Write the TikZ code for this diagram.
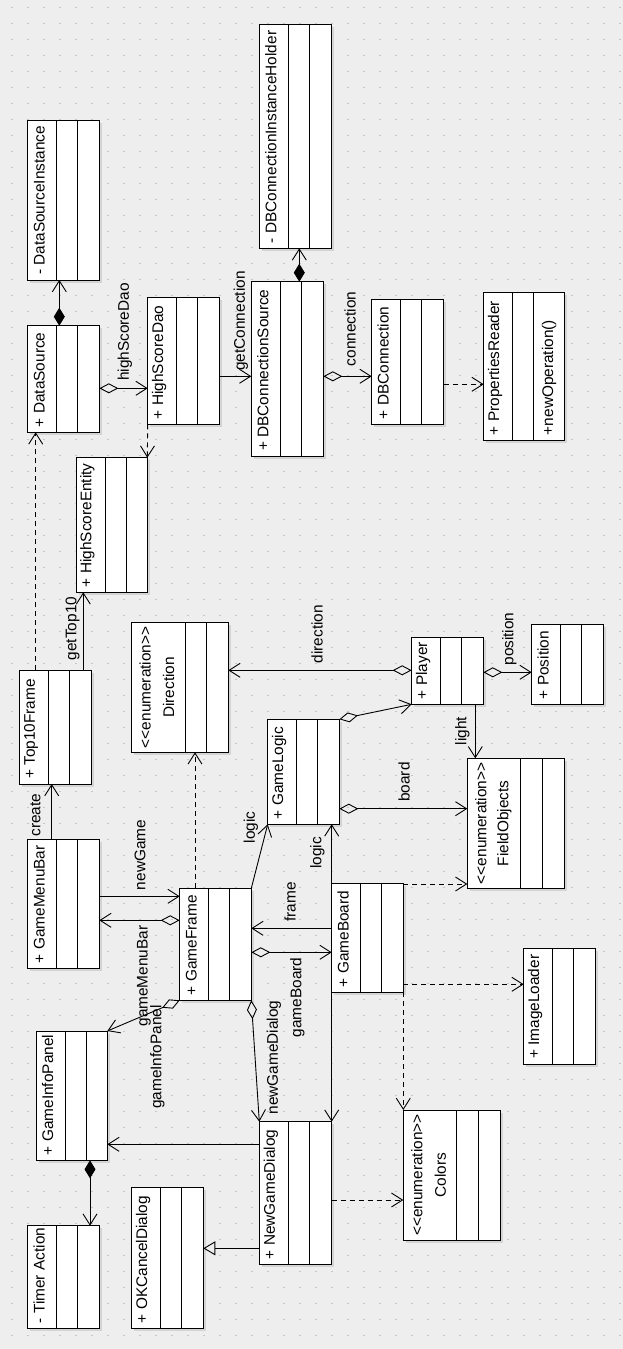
\documentclass[tikz,border=0pt]{standalone}
\usepackage{fontspec}
\setmainfont{Liberation Sans}
\usetikzlibrary{arrows.meta,calc,fit}
\definecolor{bgc}{HTML}{EEEEEE}
\definecolor{dotc}{HTML}{C6C6C6}
\definecolor{shc}{HTML}{D4D4D4}
\tikzset{
  clsbox/.style={draw=black, fill=white, line width=1pt, inner sep=0pt, outer sep=0pt},
  clsline/.style={line width=1pt},
  clstext/.style={rotate=90, inner sep=0pt, font=\fontsize{15.4}{18}\selectfont},
  lbl/.style={rotate=90, inner sep=0pt, font=\fontsize{15.4}{18}\selectfont},
  assoc/.style={line width=0.9pt, -{Straight Barb[length=11pt,width=14pt]}},
  agg/.style={line width=0.9pt, {Diamond[open,length=19pt,width=10pt]}-{Straight Barb[length=11pt,width=14pt]}},
  comp/.style={line width=0.9pt, {Diamond[length=18pt,width=11pt]}-{Straight Barb[length=11pt,width=14pt]}},
  dep/.style={line width=0.9pt, dash pattern=on 5pt off 4pt, -{Straight Barb[length=11pt,width=14pt]}},
  gen/.style={line width=0.9pt, -{Triangle[open,length=12pt,width=14pt]}},
}
% #1 name, #2 x1, #3 y1, #4 x2, #5 y2, #6 first divider, #7 second divider
\newcommand\umlshape[7]{%
  \coordinate (#1-a) at (#2,#3);
  \coordinate (#1-b) at (#4,#5);
  \fill[shc] ($(#1-a)+(2.5,2.5)$) rectangle ($(#1-b)+(2.5,2.5)$);
  \node[clsbox, fit=(#1-a)(#1-b)] (#1) {};
  \draw[clsline] ($(#1.north west)+(#6,0)$) -- ($(#1.south west)+(#6,0)$);
  \draw[clsline] ($(#1.north west)+(#7,0)$) -- ($(#1.south west)+(#7,0)$);
}
\newcommand\umlclass[6]{%
  \umlshape{#1}{#2}{#3}{#4}{#5}{29}{50}
  \node[clstext, anchor=west] (#1-t) at ($(#1.south west)+(11.5,-5)$) {#6};
}
\newcommand\umlenum[6]{%
  \umlshape{#1}{#2}{#3}{#4}{#5}{53.6}{75}
  \node[clstext] (#1-s) at ($(#1.west)+(13.5,0)$) {<{}<enumeration>{}>};
  \node[clstext] (#1-t) at ($(#1.west)+(37,0)$) {#6};
}
\begin{document}
\begin{tikzpicture}[x=1pt,y=-1pt]
\useasboundingbox (0,0) rectangle (623,1349);
\fill[bgc] (0,0) rectangle (623,1349);
\foreach \i in {0,...,38} {
  \foreach \j in {0,...,83} {
    \fill[dotc] ({12+16*\i-0.7},{7.3+16*\j-0.7}) rectangle ++(1.4,1.4);
  }
}
% classes
\umlclass{dsi}{27.7}{120.7}{99.3}{280}{- DataSourceInstance}
\umlclass{dbcih}{259.3}{24.3}{331.7}{248.3}{- DBConnectionInstanceHolder}
\umlclass{ds}{27.7}{325.7}{99.3}{432.3}{+ DataSource}
\umlclass{hsd}{147.7}{297.3}{219.3}{424.3}{+ HighScoreDao}
\umlclass{dbcs}{251.3}{281.7}{323.3}{456}{+ DBConnectionSource}
\umlclass{dbc}{371.7}{299.3}{443.7}{424.3}{+ DBConnection}
\umlclass{pr}{483.7}{292.7}{564.3}{440.3}{+ PropertiesReader}
\node[clstext, anchor=west] (pr-op) at ($(pr.south west)+(65.5,-5)$) {+newOperation()};
\umlclass{hse}{76}{457.7}{147.3}{592.3}{+ HighScoreEntity}
\umlclass{t10}{19.7}{670.3}{91.7}{784}{+ Top10Frame}
\umlenum{dir}{131.7}{622.3}{228.3}{752.3}{Direction}
\umlclass{gl}{267.7}{719.3}{339.3}{824.3}{+ GameLogic}
\umlclass{player}{411.7}{637.3}{483.3}{704.3}{+ Player}
\umlclass{pos}{531.7}{624.3}{603.3}{704.3}{+ Position}
\umlenum{fo}{467.3}{758.3}{564.3}{888.3}{FieldObjects}
\umlclass{gmb}{27.7}{839.3}{99.3}{968.3}{+ GameMenuBar}
\umlclass{gf}{179.7}{888.3}{251.3}{1000.3}{+ GameFrame}
\umlclass{gb}{331.7}{883.3}{403.3}{992.3}{+ GameBoard}
\umlclass{il}{523.7}{948.3}{595.7}{1064}{+ ImageLoader}
\umlclass{gip}{36}{1031}{107.3}{1160.3}{+ GameInfoPanel}
\umlclass{ngd}{259.3}{1121.7}{331.7}{1264.3}{+ NewGameDialog}
\umlenum{colors}{403.3}{1110}{500.7}{1240}{Colors}
\umlclass{ta}{27.7}{1225.7}{99.3}{1328.3}{- Timer Action}
\umlclass{okc}{131.7}{1187.7}{203.3}{1328.3}{+ OKCancelDialog}
% compositions
\draw[comp] (59.3,0 |- ds.north) -- (59.3,0 |- dsi.south);
\draw[comp] (299.3,0 |- dbcs.north) -- (299.3,0 |- dbcih.south);
\draw[comp] (90,0 |- gip.south) -- (90,0 |- ta.north);
% aggregations
\draw[agg] (ds.east |- 0,388.3) -- (hsd.west |- 0,388.3);
\draw[agg] (dbcs.east |- 0,376.3) -- (dbc.west |- 0,376.3);
\draw[agg] (player.west |- 0,670.3) -- (dir.east |- 0,670.3);
\draw[agg] (player.east |- 0,672.3) -- (pos.west |- 0,672.3);
\draw[agg] (gl.north east) -- (player.south west);
\draw[agg] (gl.east |- 0,808.7) -- (fo.west |- 0,808.7);
\draw[agg] (gf.west |- 0,920.3) -- (gmb.east |- 0,920.3);
\draw[agg] (gf.south west) -- (gip.north east);
\draw[agg] (gf.east |- 0,952.3) -- (gb.west |- 0,952.3);
\draw[agg] (gf.south east) -- (ngd.north west);
% associations
\draw[assoc] (hsd.east |- 0,376.3) -- (dbcs.west |- 0,376.3);
\draw[assoc] (83.3,0 |- t10.north) -- (83.3,0 |- hse.south);
\draw[assoc] (51.7,0 |- gmb.north) -- (51.7,0 |- t10.south);
\draw[assoc] (475.3,0 |- player.south) -- (475.3,0 |- fo.north);
\draw[assoc] (gf.north east) -- (gl.south west);
\draw[assoc] (gb.north west) -- (gb.west |- gl.south);
\draw[assoc] (gmb.east |- 0,896.3) -- (gf.west |- 0,896.3);
\draw[assoc] (gb.west |- 0,928.3) -- (gf.east |- 0,928.3);
\draw[assoc] (gb.south west) -- (ngd.north east);
\draw[assoc] (ngd.west |- 0,1144.3) -- (gip.east |- 0,1144.3);
% dependencies
\draw[dep] (dbc.east |- 0,384.3) -- (pr.west |- 0,384.3);
\draw[dep] (hsd.south west) -- (hse.north east);
\draw[dep] (35.7,0 |- t10.north) -- (35.7,0 |- ds.south);
\draw[dep] (195,0 |- gf.north) -- (195,0 |- dir.south);
\draw[dep] (gb.east |- 0,884) -- (fo.west |- 0,884);
\draw[dep] (gb.east |- 0,984.3) -- (il.west |- 0,984.3);
\draw[dep] (gb.south east) -- (gb.south east |- colors.north);
\draw[dep] (ngd.east |- 0,1200) -- (colors.west |- 0,1200);
% generalization
\draw[gen] (ngd.west |- 0,1248.3) -- (okc.east |- 0,1248.3);
% labels
\node[lbl] (l1) at (125,332) {highScoreDao};
\node[lbl] (l2) at (241,321) {getConnection};
\node[lbl] (l3) at (350,329) {connection};
\node[lbl] (l4) at (72.5,628.5) {getTop10};
\node[lbl] (l5) at (317,634) {direction};
\node[lbl] (l6) at (509.5,639) {position};
\node[lbl] (l7) at (462.5,731) {light};
\node[lbl] (l8) at (404,782) {board};
\node[lbl] (l9) at (251,827.5) {logic};
\node[lbl] (l10) at (317.5,853) {logic};
\node[lbl] (l11) at (35.5,815) {create};
\node[lbl] (l12) at (140,855) {newGame};
\node[lbl] (l13) at (144,976) {gameMenuBar};
\node[lbl] (l14) at (157.5,1057) {gameInfoPanel};
\node[lbl] (l15) at (290,902) {frame};
\node[lbl] (l16) at (297.5,997.5) {gameBoard};
\node[lbl] (l17) at (274,1057.5) {newGameDialog};
\end{tikzpicture}
\end{document}
